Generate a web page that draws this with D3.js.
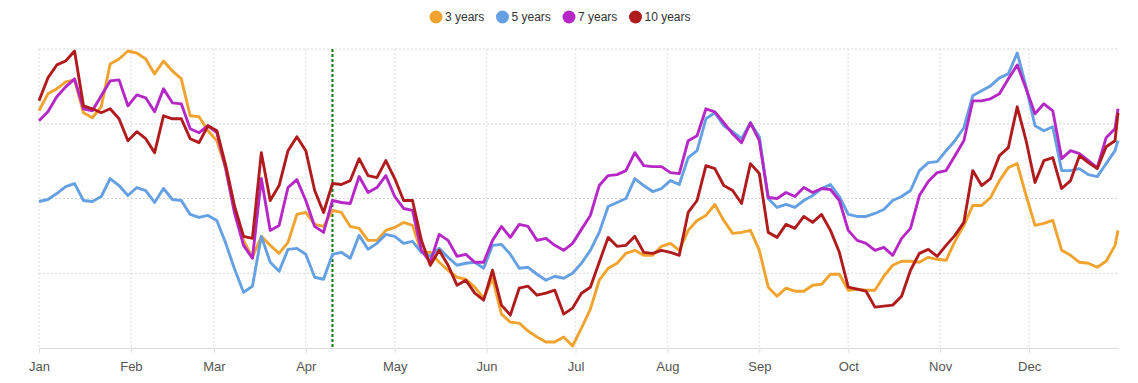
<!DOCTYPE html>
<html>
<head>
<meta charset="utf-8">
<script src="https://cdn.jsdelivr.net/npm/d3@7"></script>
<style>
body{margin:0;background:#fff;}
</style>
</head>
<body>
<div class="LineChart"></div>
<script>
// series
var seriesNames=['3 years','5 years','7 years','10 years'];
var seriesColors=['#F0A32F','#64A0E2','#B528C6','#B01C1E'];

// one sample every 3 days from 1 Jan, plus 31 Dec
var startDate='2021-01-01';
var endDate='2021-12-31';
var stepDays=3;
var markerDate='2021-04-10';

var monthLabels=['Jan','Feb','Mar','Apr','May','Jun','Jul','Aug','Sep','Oct','Nov','Dec'];
var yTicks=[0,75,150,225,300];

var years3=[238,255,260,267,269,236,231,242,285,290,
	298,296,290,275,288,278,270,233,232,218,
	208,180,136,108,91,112,103,95,106,134,
	136,124,122,138,136,122,120,108,108,118,
	121,126,123,96,96,86,78,71,69,61,
	50,70,34,26,25,17,11,6,6,11,
	2,20,39,68,80,85,95,98,93,93,
	102,105,98,118,128,133,144,128,115,116,
	118,98,61,52,60,57,57,63,64,74,
	74,58,59,58,58,72,83,87,87,86,
	91,89,88,107,123,143,143,151,168,181,
	185,153,123,125,128,98,93,86,85,81,
	87,103,118];
var years5=[147,149,155,162,165,148,147,152,170,163,
	153,161,158,146,160,149,148,134,131,133,
	128,105,79,56,62,112,86,77,99,100,
	94,71,69,94,96,90,113,99,105,114,
	112,105,107,96,92,100,91,83,85,86,
	80,103,104,94,80,81,74,68,72,70,
	75,85,98,116,142,146,150,170,163,157,
	160,168,164,191,198,230,236,223,217,210,
	226,212,150,141,144,141,148,153,160,164,
	152,134,132,132,135,139,148,152,158,178,
	186,187,198,208,221,253,258,263,271,275,
	296,262,223,218,222,178,178,180,174,172,
	185,198,208];
var years7=[228,237,252,262,270,240,238,253,268,269,
	243,254,251,237,260,246,245,220,216,223,
	216,180,135,103,90,170,118,123,161,169,
	148,122,116,148,146,145,172,156,161,173,
	152,140,138,98,86,114,108,92,94,86,
	86,108,122,111,124,122,108,110,103,98,
	105,119,133,163,173,174,178,196,183,182,
	182,176,175,208,213,240,237,226,215,206,
	226,208,151,150,156,152,161,156,160,159,
	148,118,108,105,98,101,93,110,120,153,
	167,176,178,193,208,248,248,250,255,270,
	284,260,235,245,238,190,198,195,188,181,
	211,220,240];
var years10=[248,271,284,288,298,243,240,236,240,230,
	208,217,210,196,233,230,230,210,206,223,
	218,183,142,112,110,196,148,163,198,212,
	198,158,136,165,164,168,190,173,171,188,
	170,148,148,108,83,98,83,63,68,55,
	48,78,43,33,60,62,53,55,58,34,
	40,55,61,86,111,102,103,112,96,95,
	98,96,93,136,148,183,180,163,158,145,
	185,175,116,111,124,120,132,126,134,118,
	96,61,59,57,41,42,43,52,78,95,
	99,92,103,113,126,178,163,170,193,201,
	242,208,166,188,191,160,168,193,186,180,
	202,208,236];

var width=1138;
var height=383;
var plotLeft=39, plotRight=1118, plotTop=49, plotBottom=348;
var font='"Liberation Sans", Arial, sans-serif';

var parse=d3.timeParse('%Y-%m-%d');
var dates=d3.timeDay.range(parse(startDate),parse(endDate),stepDays);
dates.push(parse(endDate));

var svg=d3.select('div.LineChart')
		.append('svg')
		.attr('width',width)
		.attr('height',height)
		.style('display','block');

var xScale=d3.scaleTime()
		.domain([parse(startDate),parse(endDate)])
		.range([plotLeft,plotRight]);
var yScale=d3.scaleLinear()
		.domain([0,300])
		.range([plotBottom,plotTop]);

var months=d3.timeMonth.range(parse(startDate),d3.timeDay.offset(parse(endDate),1));

// grid
svg.append('g')
	.selectAll('line')
	.data(months)
	.enter()
	.append('line')
	.attr('x1',d=>xScale(d)).attr('x2',d=>xScale(d))
	.attr('y1',plotTop).attr('y2',plotBottom)
	.attr('stroke','#e8e8e8')
	.attr('stroke-width',1.5)
	.attr('stroke-dasharray','2,2');

svg.append('g')
	.selectAll('line')
	.data(yTicks.slice(1))
	.enter()
	.append('line')
	.attr('x1',plotLeft).attr('x2',plotRight)
	.attr('y1',d=>yScale(d)).attr('y2',d=>yScale(d))
	.attr('stroke','#d6d6d6')
	.attr('stroke-dasharray','2,2');

// x axis
var xAxis=svg.append('g')
	.attr('transform','translate(0,'+plotBottom+')')
	.call(d3.axisBottom(xScale)
			.tickValues(months)
			.tickFormat((d,i)=>monthLabels[i])
			.tickSize(5)
			.tickSizeOuter(0)
			.tickPadding(9)
	);
xAxis.select('.domain').attr('stroke','#dcdcdc');
xAxis.selectAll('.tick line').attr('stroke','#dcdcdc');
xAxis.selectAll('text')
	.attr('fill','#555')
	.style('font-family',font)
	.style('font-size','13px');

// marker
svg.append('line')
	.attr('x1',xScale(parse(markerDate))).attr('x2',xScale(parse(markerDate)))
	.attr('y1',plotTop).attr('y2',plotBottom)
	.attr('stroke','#0b7a0b')
	.attr('stroke-width',2)
	.attr('stroke-dasharray','3,2');

// lines
var allSeries=[years3,years5,years7,years10];
var line=d3.line()
	.x((d,i)=>xScale(dates[i]))
	.y(d=>yScale(d));

svg.append('g')
	.selectAll('path')
	.data(allSeries)
	.enter()
	.append('path')
	.attr('d',d=>line(d))
	.attr('fill','none')
	.attr('stroke',(d,i)=>seriesColors[i])
	.attr('stroke-width',2.9)
	.attr('stroke-linejoin','round');

// legend
var legend=svg.append('g')
	.selectAll('g')
	.data(seriesNames)
	.enter()
	.append('g')
	.attr('transform',(d,i)=>'translate('+(436+i*66.5)+',17)');
legend.append('circle')
	.attr('r',6.5)
	.attr('fill',(d,i)=>seriesColors[i]);
legend.append('text')
	.attr('x',9)
	.attr('y',4)
	.attr('fill','#333')
	.style('font-family',font)
	.style('font-size','12px')
	.text(d=>d);
</script>
</body>
</html>
